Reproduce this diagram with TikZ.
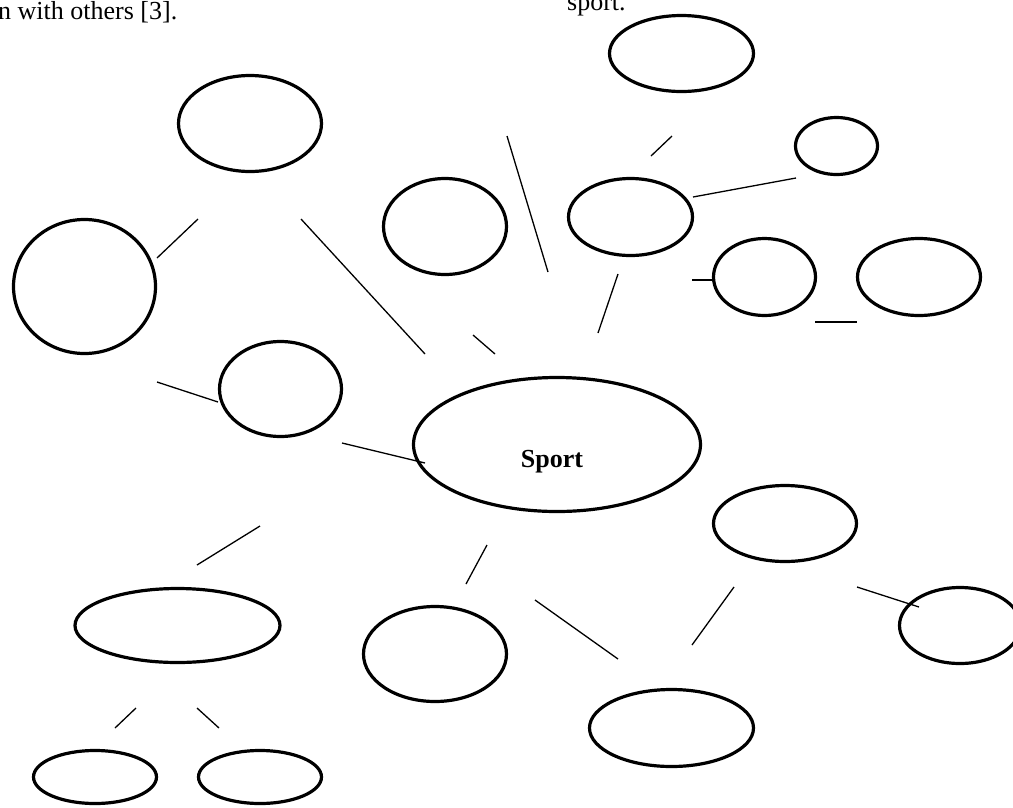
\documentclass[tikz,border=0pt]{standalone}
\usepackage{fontspec}
\setmainfont{Liberation Serif}
\usetikzlibrary{shapes.geometric}
\tikzset{
  bubble/.style={draw=black, line width=3.2pt, ellipse, inner sep=0pt},
  link/.style={draw=black, line width=1.3pt},
  bodytext/.style={font=\fontsize{26}{30}\selectfont, inner sep=0pt, anchor=base west}
}
\newcommand{\bub}[5]{\node[bubble, minimum width=#4pt, minimum height=#5pt] (#1) at (#2,#3) {};}
\begin{document}
\begin{tikzpicture}[x=1pt,y=-1pt]
\useasboundingbox (0,0) rectangle (1013,807);
\clip (0,0) rectangle (1013,807);
% top text fragments
\node[bodytext] (t1) at (-2,19) {n with others [3].};
\node[bodytext] (t2) at (567,10) {sport.};
% bubbles: name, cx, cy, width, height (path size)
\bub{e1}{681.5}{53.5}{144}{76}
\bub{e2}{836.5}{146}{82}{57}
\bub{e3}{630.5}{217}{124}{77}
\bub{e4}{764.5}{277}{102}{77}
\bub{e5}{919}{277}{123}{77}
\bub{e6}{250}{123.5}{143}{96}
\bub{e7}{84.5}{286.5}{142}{134}
\bub{e8}{280.5}{389}{122}{95}
\bub{e9}{445}{226.5}{123}{96}
\node[bubble, minimum width=287pt, minimum height=134pt] (sport) at (557,444.5) {};
\node[font=\fontsize{26}{30}\selectfont\bfseries, anchor=base, inner sep=0pt] (sportlabel) at (552,467) {Sport};
\bub{e11}{785}{523.5}{143}{76}
\bub{e12}{960}{625.5}{121}{76}
\bub{e13}{177.5}{625.5}{205}{74}
\bub{e14}{435}{654}{143}{95}
\bub{e15}{671.5}{728}{164}{77}
\bub{e16}{95}{777}{123}{53}
\bub{e17}{260}{777}{123}{53}
% connector end points
\coordinate (a1) at (672,136);  \coordinate (b1) at (651,156);
\coordinate (a2) at (693,197);  \coordinate (b2) at (796,178);
\coordinate (a3) at (618,274);  \coordinate (b3) at (598,333);
\coordinate (a4) at (692,280);  \coordinate (b4) at (712,280);
\coordinate (a5) at (815,322);  \coordinate (b5) at (857,322);
\coordinate (a6) at (507,136);  \coordinate (b6) at (548,272);
\coordinate (a7) at (198,219);  \coordinate (b7) at (157,258);
\coordinate (a8) at (301,219);  \coordinate (b8) at (425,354);
\coordinate (a9) at (473,335);  \coordinate (b9) at (495,354);
\coordinate (a10) at (157,382); \coordinate (b10) at (218,402);
\coordinate (a11) at (342,443); \coordinate (b11) at (425,463);
\coordinate (a12) at (260,526); \coordinate (b12) at (197,565);
\coordinate (a13) at (487,545); \coordinate (b13) at (466,584);
\coordinate (a14) at (535,600); \coordinate (b14) at (618,659);
\coordinate (a15) at (734,587); \coordinate (b15) at (692,645);
\coordinate (a16) at (857,587); \coordinate (b16) at (919,607);
\coordinate (a17) at (136,708); \coordinate (b17) at (115,728);
\coordinate (a18) at (197,708); \coordinate (b18) at (219,728);
\foreach \i in {1,...,18} { \draw[link] (a\i) -- (b\i); }
\end{tikzpicture}
\end{document}
